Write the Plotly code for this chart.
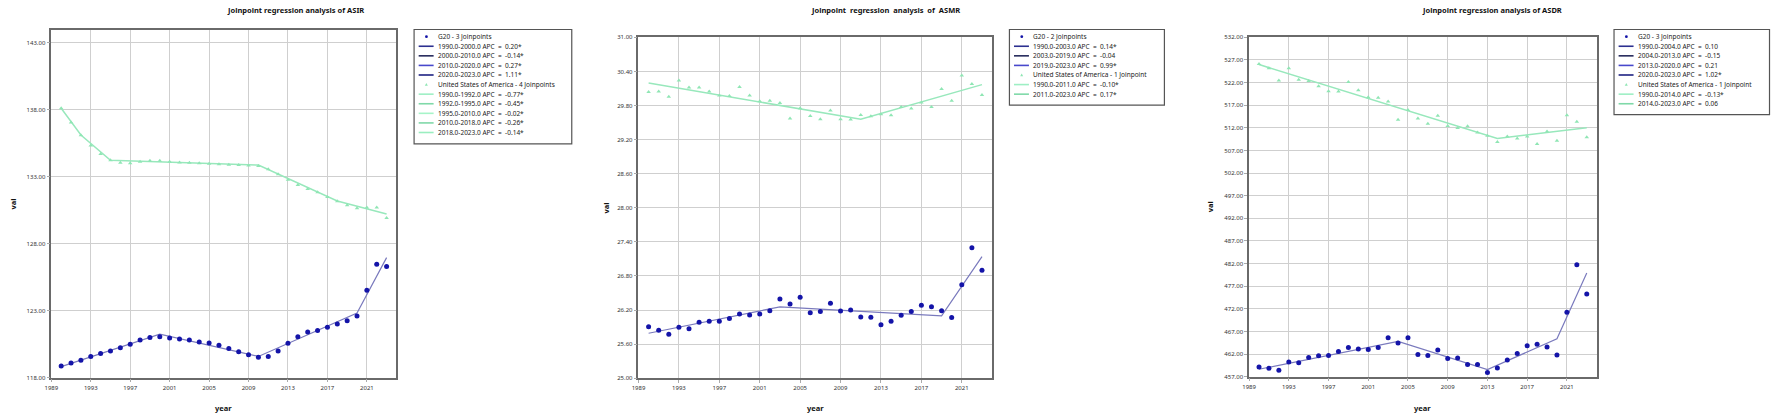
import plotly.graph_objects as go

W, H = 1772, 419

# ---- data ----
YEARS = list(range(1990, 2024))

ASIR_G20 = [118.88, 119.10, 119.30, 119.59, 119.81, 119.99, 120.23, 120.50, 120.82, 121.01,
            121.06, 120.97, 120.89, 120.82, 120.67, 120.60, 120.43, 120.18, 119.94, 119.72,
            119.52, 119.59, 119.99, 120.57, 121.06, 121.41, 121.53, 121.77, 122.02, 122.26,
            122.61, 124.54, 126.48, 126.31]
ASIR_USA = [138.12, 137.05, 136.10, 135.34, 134.71, 134.24, 134.05, 134.02, 134.12, 134.20,
            134.20, 134.12, 134.07, 134.05, 134.02, 133.98, 133.93, 133.90, 133.88, 133.85,
            133.80, 133.56, 133.19, 132.78, 132.39, 132.10, 131.85, 131.49, 131.18, 130.88,
            130.66, 130.71, 130.71, 129.93]
ASIR_G20_JP_YEARS = [1990, 2000, 2010, 2020, 2023]
ASIR_G20_JP_FIT = [118.83, 121.26, 119.59, 122.83, 126.97]
ASIR_USA_JP_YEARS = [1990, 1992, 1995, 2010, 2018, 2023]
ASIR_USA_JP_FIT = [138.12, 136.12, 134.24, 133.88, 131.20, 130.23]

ASMR_G20 = [25.906, 25.843, 25.775, 25.895, 25.872, 25.987, 26.004, 26.004, 26.050, 26.130,
            26.113, 26.130, 26.188, 26.394, 26.308, 26.423, 26.153, 26.176, 26.320, 26.182,
            26.199, 26.079, 26.073, 25.941, 26.004, 26.107, 26.176, 26.285, 26.256, 26.188,
            26.067, 26.647, 27.295, 26.899]
ASMR_USA = [30.036, 30.047, 29.955, 30.242, 30.116, 30.116, 30.047, 29.978, 29.967, 30.127,
            29.978, 29.875, 29.886, 29.846, 29.571, 29.754, 29.617, 29.559, 29.714, 29.559,
            29.553, 29.634, 29.611, 29.645, 29.628, 29.772, 29.749, 29.852, 29.772, 30.093,
            29.886, 30.328, 30.179, 29.984]
ASMR_G20_JP_YEARS = [1990, 2003, 2019, 2023]
ASMR_G20_JP_FIT = [25.792, 26.256, 26.096, 27.140]
ASMR_USA_JP_YEARS = [1990, 2011, 2023]
ASMR_USA_JP_FIT = [30.196, 29.559, 30.168]

ASDR_G20 = [459.17, 458.88, 458.45, 460.26, 460.11, 461.27, 461.63, 461.70, 462.57, 463.44,
            463.15, 463.01, 463.44, 465.61, 464.45, 465.61, 461.92, 461.70, 462.93, 461.05,
            461.12, 459.68, 459.68, 457.94, 458.95, 460.69, 462.14, 463.87, 464.16, 463.58,
            461.78, 471.25, 481.75, 475.31]
ASDR_USA = [526.12, 525.18, 522.49, 525.18, 522.64, 522.35, 521.19, 520.10, 520.03, 522.13,
            520.32, 518.79, 518.65, 517.85, 513.79, 515.96, 514.08, 512.91, 514.66, 512.41,
            511.97, 512.33, 510.96, 510.23, 508.85, 510.08, 509.65, 510.08, 508.41, 511.17,
            509.14, 514.80, 513.35, 509.94]
ASDR_G20_JP_YEARS = [1990, 2004, 2013, 2020, 2023]
ASDR_G20_JP_FIT = [458.66, 464.81, 458.59, 465.39, 479.94]
ASDR_USA_JP_YEARS = [1990, 2014, 2023]
ASDR_USA_JP_FIT = [525.98, 509.65, 512.04]

TITLES = ["Joinpoint regression analysis of ASIR",
          "Joinpoint\u00a0 regression\u00a0 analysis\u00a0 of\u00a0 ASMR",
          "Joinpoint regression analysis of ASDR"]

ASIR_LEGEND = ["G20 - 3 Joinpoints",
               "1990.0-2000.0 APC\u00a0 =\u00a0 0.20*",
               "2000.0-2010.0 APC\u00a0 =\u00a0 -0.14*",
               "2010.0-2020.0 APC\u00a0 =\u00a0 0.27*",
               "2020.0-2023.0 APC\u00a0 =\u00a0 1.11*",
               "United States of America - 4 Joinpoints",
               "1990.0-1992.0 APC\u00a0 =\u00a0 -0.77*",
               "1992.0-1995.0 APC\u00a0 =\u00a0 -0.45*",
               "1995.0-2010.0 APC\u00a0 =\u00a0 -0.02*",
               "2010.0-2018.0 APC\u00a0 =\u00a0 -0.26*",
               "2018.0-2023.0 APC\u00a0 =\u00a0 -0.14*"]
ASMR_LEGEND = ["G20 - 2 Joinpoints",
               "1990.0-2003.0 APC\u00a0 =\u00a0 0.14*",
               "2003.0-2019.0 APC\u00a0 =\u00a0 -0.04",
               "2019.0-2023.0 APC\u00a0 =\u00a0 0.99*",
               "United States of America - 1 Joinpoint",
               "1990.0-2011.0 APC\u00a0 =\u00a0 -0.10*",
               "2011.0-2023.0 APC\u00a0 =\u00a0 0.17*"]
ASDR_LEGEND = ["G20 - 3 Joinpoints",
               "1990.0-2004.0 APC\u00a0 =\u00a0 0.10",
               "2004.0-2013.0 APC\u00a0 =\u00a0 -0.15",
               "2013.0-2020.0 APC\u00a0 =\u00a0 0.21",
               "2020.0-2023.0 APC\u00a0 =\u00a0 1.02*",
               "United States of America - 1 Joinpoint",
               "1990.0-2014.0 APC\u00a0 =\u00a0 -0.13*",
               "2014.0-2023.0 APC\u00a0 =\u00a0 0.06"]

# ---- styling ----
FONT = "Noto Sans"
G20_DOT = "#1414a8"
G20_FIT = "#7a7abd"
USA_DOT = "#8fe6b4"
USA_FIT = "#98e8bc"
G20_LEG = ["#2c3090", "#262a5c", "#4848cc", "#1e2182"]
USA_LEG = ["#9eefc4", "#7fd9a8", "#a6f4c8", "#80d8a8", "#9aeec0"]
GRID = "#cfcfcf"
FRAME = "#6a6a6a"

# panel geometry in pixels: frame left/right/top/bottom, legend box, label spots
panels = [
    dict(data=(ASIR_G20, ASIR_USA, ASIR_G20_JP_YEARS, ASIR_G20_JP_FIT, ASIR_USA_JP_YEARS, ASIR_USA_JP_FIT),
         yr=[118, 144], ticks=[118 + 5 * i for i in range(6)], legend=ASIR_LEGEND, n_g20=4,
         frame=(44.5, 391, 26, 381), box=(408.7, 567, 26, 142.5), title_x=289.5, val_x=6),
    dict(data=(ASMR_G20, ASMR_USA, ASMR_G20_JP_YEARS, ASMR_G20_JP_FIT, ASMR_USA_JP_YEARS, ASMR_USA_JP_FIT),
         yr=[25, 31], ticks=[round(25 + 0.6 * i, 2) for i in range(11)], legend=ASMR_LEGEND, n_g20=3,
         frame=(634, 989, 34, 381.5), box=(1006.4, 1162, 26, 103), title_x=882, val_x=601),
    dict(data=(ASDR_G20, ASDR_USA, ASDR_G20_JP_YEARS, ASDR_G20_JP_FIT, ASDR_USA_JP_YEARS, ASDR_USA_JP_FIT),
         yr=[457, 532], ticks=[457 + 5 * i for i in range(16)], legend=ASDR_LEGEND, n_g20=4,
         frame=(1247, 1596, 34, 380), box=(1613.4, 1769.5, 26, 112.7), title_x=1491, val_x=1208),
]


def px(x):
    return x / W


def py(y):
    return 1 - y / H


fig = go.Figure()
shapes = []
annotations = []

for i, p in enumerate(panels, start=1):
    g20, usa, g_jy, g_jf, u_jy, u_jf = p["data"]
    xa = "x" if i == 1 else f"x{i}"
    ya = "y" if i == 1 else f"y{i}"

    fig.add_trace(go.Scatter(x=u_jy, y=u_jf, mode="lines", xaxis=xa, yaxis=ya,
                             line=dict(color=USA_FIT, width=1.5), showlegend=False))
    fig.add_trace(go.Scatter(x=YEARS, y=usa, mode="markers", xaxis=xa, yaxis=ya,
                             marker=dict(symbol="triangle-up", size=4, color=USA_DOT),
                             showlegend=False))
    fig.add_trace(go.Scatter(x=g_jy, y=g_jf, mode="lines", xaxis=xa, yaxis=ya,
                             line=dict(color=G20_FIT, width=1.2), showlegend=False))
    fig.add_trace(go.Scatter(x=YEARS, y=g20, mode="markers", xaxis=xa, yaxis=ya,
                             marker=dict(symbol="circle", size=5, color=G20_DOT),
                             showlegend=False))

    l, r, t, b = p["frame"]
    axis_common = dict(showgrid=True, gridcolor=GRID, gridwidth=1, zeroline=False,
                       showline=True, linecolor=FRAME, linewidth=1.5, mirror=True,
                       ticks="outside", ticklen=3, tickcolor="#aaaaaa",
                       tickfont=dict(family=FONT, size=6, color="#333333"))
    fig.update_layout(**{
        ("xaxis" if i == 1 else f"xaxis{i}"): dict(
            domain=[px(l), px(r)], anchor=ya, range=[1989, 2024],
            tickvals=list(range(1989, 2022, 4)), **axis_common),
        ("yaxis" if i == 1 else f"yaxis{i}"): dict(
            domain=[py(b), py(t)], anchor=xa, range=p["yr"],
            tickvals=p["ticks"], tickformat=".2f", **axis_common),
    })

    # titles and axis labels
    annotations.append(dict(text=f"<b>{TITLES[i - 1]}</b>", x=px(p["title_x"]), y=py(6.5),
                            xref="paper", yref="paper", showarrow=False,
                            xanchor="center", yanchor="middle",
                            font=dict(family=FONT, size=7.5, color="#111111")))
    annotations.append(dict(text="<b>val</b>", x=px(p["val_x"]), y=py((t + b) / 2),
                            xref="paper", yref="paper", showarrow=False, textangle=-90,
                            xanchor="center", yanchor="middle",
                            font=dict(family=FONT, size=7.5, color="#111111")))
    annotations.append(dict(text="<b>year</b>", x=px((l + r) / 2), y=py(411.5),
                            xref="paper", yref="paper", showarrow=False,
                            xanchor="center", yanchor="middle",
                            font=dict(family=FONT, size=7.5, color="#111111")))

    # hand-built legend box
    bl, br, bt, bb = p["box"]
    shapes.append(dict(type="rect", xref="paper", yref="paper",
                       x0=px(bl), x1=px(br), y0=py(bb), y1=py(bt),
                       line=dict(color="#555555", width=1.2), fillcolor="white"))
    n_g20 = p["n_g20"]
    for k, label in enumerate(p["legend"]):
        yy = bt + 7.3 + 9.77 * k
        if k == 0:
            shapes.append(dict(type="circle", xref="paper", yref="paper",
                               x0=px(bl + 11), x1=px(bl + 13.8), y0=py(yy + 1.4), y1=py(yy - 1.4),
                               fillcolor=G20_DOT, line=dict(width=0)))
        elif k == n_g20 + 1:
            shapes.append(dict(type="path", xref="paper", yref="paper",
                               path=f"M {px(bl + 10.8)} {py(yy + 1.3)} L {px(bl + 13.8)} {py(yy + 1.3)} "
                                    f"L {px(bl + 12.3)} {py(yy - 1.5)} Z",
                               fillcolor=USA_DOT, line=dict(width=0)))
        else:
            col = G20_LEG[k - 1] if k <= n_g20 else USA_LEG[k - n_g20 - 2]
            shapes.append(dict(type="line", xref="paper", yref="paper",
                               x0=px(bl + 4.6), x1=px(bl + 19.6), y0=py(yy), y1=py(yy),
                               line=dict(color=col, width=1.6)))
        annotations.append(dict(text=label, x=px(bl + 22), y=py(yy), xref="paper", yref="paper",
                                showarrow=False, xanchor="left", yanchor="middle",
                                font=dict(family=FONT, size=6.5, color="#222222")))

fig.update_layout(width=W, height=H, autosize=False,
                  margin=dict(l=0, r=0, t=0, b=0),
                  paper_bgcolor="white", plot_bgcolor="white",
                  showlegend=False, shapes=shapes, annotations=annotations)

# the page body margin would push the fixed-size figure out of the window
fig.write_html("out.html", config={"displayModeBar": False},
               post_script="document.body.style.margin='0';document.body.style.overflow='hidden';")
